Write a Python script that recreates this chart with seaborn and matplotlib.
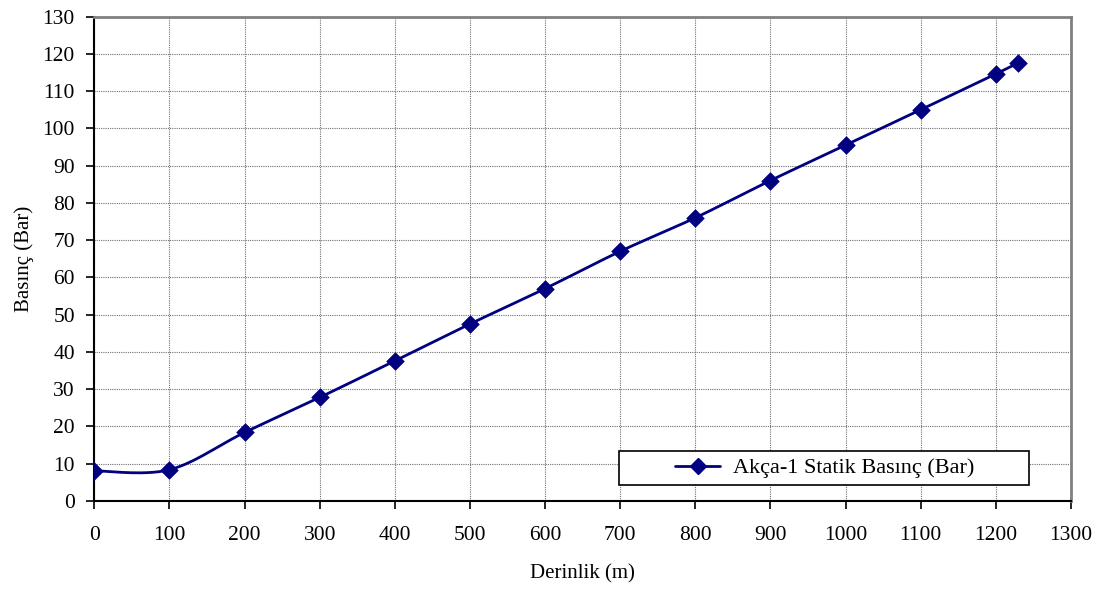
import numpy as np
import pandas as pd
import matplotlib
matplotlib.use("Agg")
import matplotlib.pyplot as plt
from matplotlib.patches import Rectangle
import seaborn as sns

# Static pressure measurements along the well
depth_m = [0, 100, 200, 300, 400, 500, 600, 700, 800, 900, 1000, 1100, 1200, 1229]
pressure_bar = [8.1, 8.4, 18.4, 27.8, 37.6, 47.5, 57.0, 67.0, 76.0, 86.0, 95.5, 105.0, 114.6, 117.5]
series_name = "Akça-1 Statik Basınç (Bar)"
x_ticks = list(range(0, 1301, 100))
y_ticks = list(range(0, 131, 10))

sns.set_theme(style="white")
plt.rcParams["font.family"] = ["Liberation Serif", "DejaVu Serif"]
plt.rcParams["text.color"] = "black"

df = pd.DataFrame({"Derinlik (m)": depth_m, "Basınç (Bar)": pressure_bar})


def smooth_curve(x, y, n=30):
    """Bezier smoothing through every point (cardinal spline, tension 1/6)."""
    x = np.asarray(x, float)
    y = np.asarray(y, float)
    xs, ys = [], []
    m = len(x)
    for i in range(m - 1):
        p0 = np.array([x[max(i - 1, 0)], y[max(i - 1, 0)]])
        p1 = np.array([x[i], y[i]])
        p2 = np.array([x[i + 1], y[i + 1]])
        p3 = np.array([x[min(i + 2, m - 1)], y[min(i + 2, m - 1)]])
        c1 = p1 + (p2 - p0) / 6.0
        c2 = p2 - (p3 - p1) / 6.0
        t = np.linspace(0, 1, n)[:, None]
        pts = ((1 - t) ** 3) * p1 + 3 * ((1 - t) ** 2) * t * c1 + 3 * (1 - t) * t ** 2 * c2 + t ** 3 * p2
        xs.extend(pts[:, 0])
        ys.extend(pts[:, 1])
    return np.array(xs), np.array(ys)


fig = plt.figure(figsize=(11.11, 5.90), dpi=100)
ax = fig.add_axes([0.0849, 0.1508, 0.8791, 0.8212])

navy = "#000080"
sx, sy = smooth_curve(df["Derinlik (m)"], df["Basınç (Bar)"])
ax.plot(sx, sy, color=navy, lw=2.0, zorder=3)
sns.scatterplot(data=df, x="Derinlik (m)", y="Basınç (Bar)", marker="D", s=80,
                color=navy, edgecolor=navy, linewidth=0.5, ax=ax, zorder=4, legend=False)

ax.set_xlim(0, 1300)
ax.set_ylim(0, 130)
ax.set_xticks(x_ticks)
ax.set_yticks(y_ticks)
ax.set_xticklabels([str(v) for v in x_ticks])
ax.set_yticklabels([str(v) for v in y_ticks])

ax.grid(True, color="#707070", linestyle=(0, (1, 1)), linewidth=0.8)
ax.set_axisbelow(True)

for side in ("left", "bottom"):
    ax.spines[side].set_color("black")
    ax.spines[side].set_linewidth(1.5)
for side in ("top", "right"):
    ax.spines[side].set_color("#808080")
    ax.spines[side].set_linewidth(2.0)

ax.tick_params(axis="both", which="major", direction="out", length=6, width=1.2,
               color="black", labelsize=15.5, labelcolor="black", pad=8,
               bottom=True, left=True)
ax.tick_params(axis="x", pad=12)

ax.set_xlabel("Derinlik (m)", fontsize=15, color="black", labelpad=14)
ax.set_ylabel("Basınç (Bar)", fontsize=15, color="black", labelpad=6)

# Legend box with its own frame
ax.add_patch(Rectangle((0.537, 0.033), 0.420, 0.070, transform=ax.transAxes,
                       facecolor="white", edgecolor="black", lw=1.2, zorder=5))
handle = plt.Line2D([], [], color=navy, lw=2.0, marker="D", markersize=8)
leg = ax.legend([handle], [series_name], loc="center", bbox_to_anchor=(0.748, 0.068),
                frameon=False, fontsize=16, handlelength=2.0, handletextpad=0.6,
                borderpad=0.2, borderaxespad=0, labelcolor="black")
leg.set_zorder(6)

fig.savefig("out.png", dpi=100, facecolor="white")
